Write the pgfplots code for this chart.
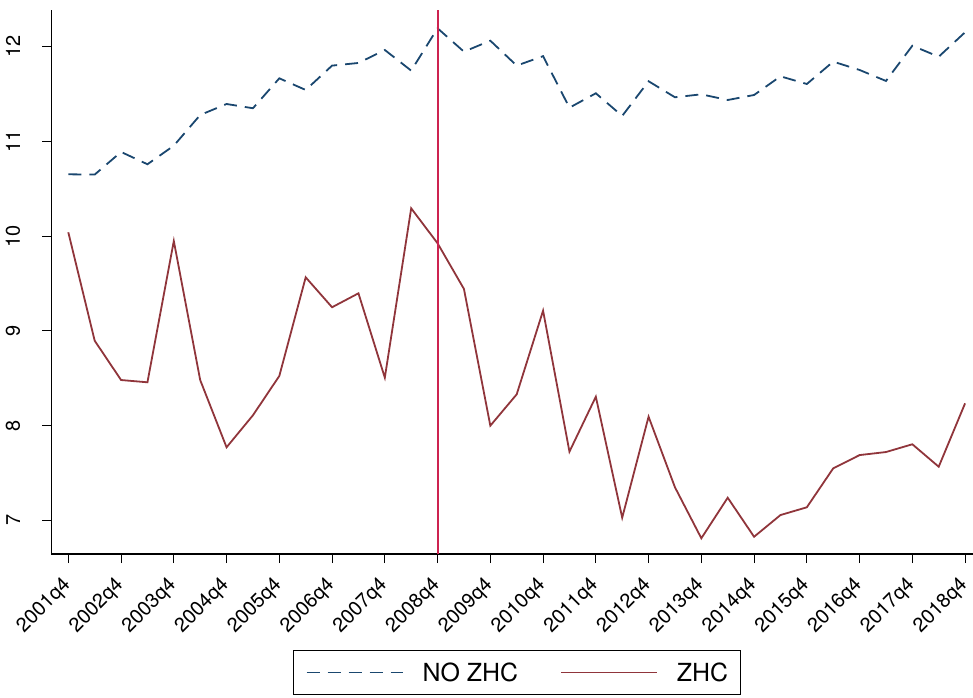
\documentclass[border=0pt]{standalone}
\usepackage{fontspec}
\setmainfont{TeX Gyre Heros}
\usepackage{pgfplots}
\pgfplotsset{compat=1.18}
\definecolor{stnavy}{RGB}{26,71,111}
\definecolor{stmaroon}{RGB}{144,53,59}
\definecolor{refred}{RGB}{205,35,80}
\begin{document}
\begin{tikzpicture}
\useasboundingbox (-51.3bp,-144bp) rectangle (921.7bp,554bp);
\begin{axis}[
  at={(0,0)}, anchor=south west,
  scale only axis, width=921.7bp, height=544bp,
  xmin=-0.645, xmax=34.3, ymin=6.646, ymax=12.387,
  axis x line*=bottom, axis y line*=left,
  axis line style={line width=1.1bp, black},
  tick align=outside, major tick length=9bp,
  tick style={line width=1bp, black},
  xtick={0,2,...,34},
  xticklabels={2001q4,2002q4,2003q4,2004q4,2005q4,2006q4,2007q4,2008q4,2009q4,2010q4,2011q4,2012q4,2013q4,2014q4,2015q4,2016q4,2017q4,2018q4},
  ytick={7,8,9,10,11,12},
  /pgf/number format/assume math mode=true,
  ticklabel style={font=\fontsize{20}{23}\selectfont},
  xticklabel style={yshift=-18bp, xshift=1bp, rotate=45, anchor=east, inner sep=2bp},
  yticklabel style={xshift=-20bp, rotate=90, anchor=south, inner sep=2bp},
  legend columns=2,
  legend style={at={(axis description cs:0.2626,-0.1765)}, anchor=north west,
    draw=black, line width=1bp, font=\fontsize{25}{30}\selectfont,
    inner xsep=12bp, inner ysep=12bp,
    nodes={inner sep=0pt},
    /tikz/every odd column/.append style={column sep=19bp},
    /tikz/every even column/.append style={column sep=42bp}},
  legend image code/.code={\draw[#1] (0bp,0bp) -- (96bp,0bp);},
]
\addplot[stnavy, line width=1.8bp, dash pattern=on 13bp off 8bp] coordinates {
(0,10.653) (1,10.650) (2,10.889) (3,10.759) (4,10.955) (5,11.279) (6,11.395) (7,11.350)
(8,11.666) (9,11.543) (10,11.800) (11,11.828) (12,11.965) (13,11.747) (14,12.194)
(15,11.947) (16,12.063) (17,11.800) (18,11.900) (19,11.356) (20,11.508) (21,11.269)
(22,11.635) (23,11.466) (24,11.497) (25,11.437) (26,11.490) (27,11.687) (28,11.606)
(29,11.842) (30,11.754) (31,11.638) (32,12.010) (33,11.894) (34,12.152)};
\addlegendentry{NO ZHC}
\addplot[stmaroon, line width=1.8bp] coordinates {
(0,10.041) (1,8.897) (2,8.482) (3,8.458) (4,9.949) (5,8.482) (6,7.772) (7,8.110)
(8,8.525) (9,9.566) (10,9.250) (11,9.397) (12,8.507) (13,10.294) (14,9.925)
(15,9.443) (16,8.000) (17,8.331) (18,9.214) (19,7.726) (20,8.306) (21,7.029)
(22,8.095) (23,7.350) (24,6.812) (25,7.240) (26,6.828) (27,7.057) (28,7.139)
(29,7.550) (30,7.690) (31,7.722) (32,7.804) (33,7.567) (34,8.236)};
\addlegendentry{ZHC}
\fill[refred] ([xshift=-1bp]axis cs:14,6.646) rectangle ([xshift=1bp]axis cs:14,12.387);
\end{axis}
\end{tikzpicture}
\end{document}
